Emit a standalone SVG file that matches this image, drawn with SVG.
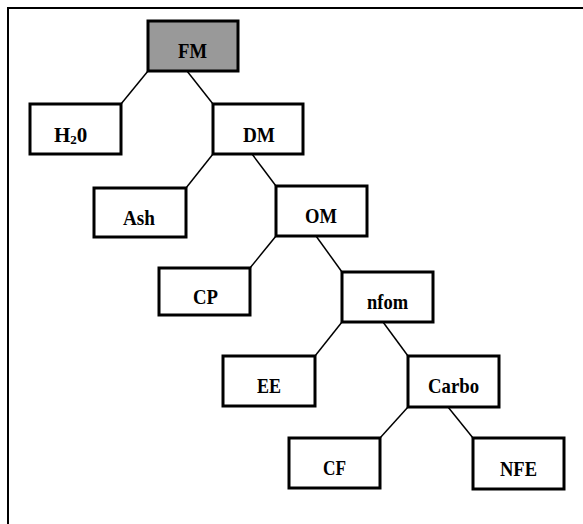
<svg xmlns="http://www.w3.org/2000/svg" width="583" height="524" viewBox="0 0 583 524">
  <style>
    .box { fill: #ffffff; stroke: #000000; stroke-width: 3; }
    .root { fill: #999999; }
    .edge { stroke: #000000; stroke-width: 1.5; fill: none; }
    .frame { stroke: #000000; stroke-width: 2; fill: none; }
    text { font-family: "Liberation Serif", "Times New Roman", serif; font-weight: bold; font-size: 21px; fill: #000000; }
  </style>
  <rect width="583" height="524" fill="#ffffff"/>
  <path class="frame" d="M8,524 V8 H583"/>

  <g id="connectors">
    <line class="edge" x1="148" y1="71" x2="121" y2="104"/>
    <line class="edge" x1="187" y1="71" x2="213" y2="104"/>
    <line class="edge" x1="213" y1="154" x2="186" y2="188"/>
    <line class="edge" x1="252" y1="154" x2="276" y2="186"/>
    <line class="edge" x1="276" y1="236" x2="250" y2="268"/>
    <line class="edge" x1="316" y1="236" x2="342" y2="272"/>
    <line class="edge" x1="342" y1="322" x2="315" y2="356"/>
    <line class="edge" x1="383" y1="322" x2="408" y2="356"/>
    <line class="edge" x1="408" y1="407" x2="380" y2="438"/>
    <line class="edge" x1="448" y1="407" x2="473" y2="438"/>
  </g>

  <g id="FM">
    <rect class="box root" x="148" y="21" width="90" height="50"/>
    <text x="178" y="58" textLength="29" lengthAdjust="spacingAndGlyphs">FM</text>
  </g>
  <g id="H2O">
    <rect class="box" x="30" y="104" width="91" height="50"/>
    <text x="54" y="142">H<tspan font-size="13" dy="2">2</tspan><tspan dy="-2">0</tspan></text>
  </g>
  <g id="DM">
    <rect class="box" x="213" y="104" width="90" height="50"/>
    <text x="243" y="142" textLength="32" lengthAdjust="spacingAndGlyphs">DM</text>
  </g>
  <g id="Ash">
    <rect class="box" x="94" y="188" width="92" height="49"/>
    <text x="123" y="225" textLength="32" lengthAdjust="spacingAndGlyphs">Ash</text>
  </g>
  <g id="OM">
    <rect class="box" x="276" y="186" width="91" height="50"/>
    <text x="305" y="223" textLength="32" lengthAdjust="spacingAndGlyphs">OM</text>
  </g>
  <g id="CP">
    <rect class="box" x="159" y="268" width="91" height="47"/>
    <text x="193" y="304" textLength="25" lengthAdjust="spacingAndGlyphs">CP</text>
  </g>
  <g id="nfom">
    <rect class="box" x="342" y="272" width="91" height="50"/>
    <text x="367" y="309" textLength="41" lengthAdjust="spacingAndGlyphs">nfom</text>
  </g>
  <g id="EE">
    <rect class="box" x="223" y="356" width="92" height="50"/>
    <text x="257" y="393" textLength="24" lengthAdjust="spacingAndGlyphs">EE</text>
  </g>
  <g id="Carbo">
    <rect class="box" x="408" y="356" width="91" height="51"/>
    <text x="428" y="393" textLength="51" lengthAdjust="spacingAndGlyphs">Carbo</text>
  </g>
  <g id="CF">
    <rect class="box" x="289" y="438" width="91" height="50"/>
    <text x="323" y="475" textLength="23" lengthAdjust="spacingAndGlyphs">CF</text>
  </g>
  <g id="NFE">
    <rect class="box" x="473" y="438" width="91" height="51"/>
    <text x="500" y="476" textLength="37" lengthAdjust="spacingAndGlyphs">NFE</text>
  </g>
</svg>
